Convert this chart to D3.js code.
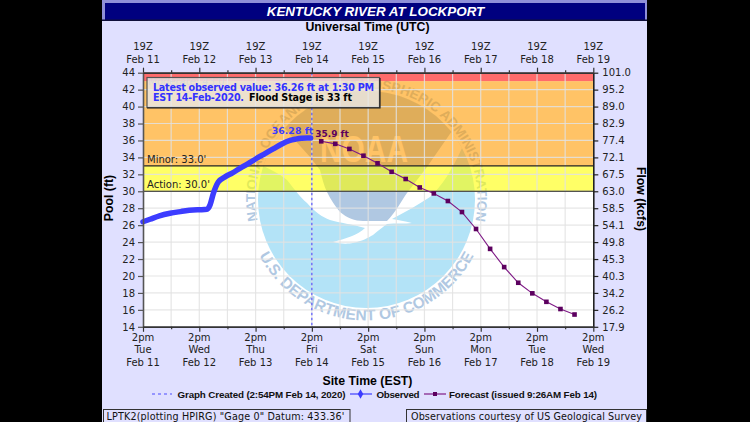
<!DOCTYPE html>
<html><head><meta charset="utf-8">
<script src="https://cdn.jsdelivr.net/npm/d3@7"></script>
<style>html,body{margin:0;padding:0;background:#000;overflow:hidden}svg{display:block}</style>
</head><body><svg id="c" width="750" height="422"></svg>
<script>
// hours since 2pm Tue Feb 11 (site time)
const observedHours=[0,3,7,11.5,16,21.4,25,27.2,28.6,30,32.1,35,38,41.3,45,48.5,52,55.5,59,62.7,65,67.6,70,71.5];
const observedStage=[26.4,26.7,27.1,27.4,27.6,27.8,27.82,27.87,28.4,29.75,31.1,31.7,32.15,32.7,33.3,33.9,34.45,35.0,35.55,36.0,36.15,36.27,36.3,36.28];
const forecastHours=[76,82,88,94,100,106,112,118,124,130,136,142,148,154,160,166,172,178,184];
const forecastStage=[35.9,35.6,35.0,34.2,33.3,32.3,31.45,30.45,29.75,28.85,27.55,25.55,23.2,21.05,19.2,17.95,16.95,16.1,15.45];
const createdHour=72;
const stageTicks=[44,42,40,38,36,34,32,30,28,26,24,22,20,18,16,14];
const flowLabels=["101.0","95.2","89.0","82.9","77.4","72.1","67.5","63.0","58.5","54.1","49.8","45.3","40.3","34.2","26.2","17.9"];
const dayHours=[0,24,48,72,96,120,144,168,192];
const halfDayHours=[12,36,60,84,108,132,156,180];
const dateLabels=["Feb 11","Feb 12","Feb 13","Feb 14","Feb 15","Feb 16","Feb 17","Feb 18","Feb 19"];
const weekdayLabels=["Tue","Wed","Thu","Fri","Sat","Sun","Mon","Tue","Wed"];
const bandNames=["Moderate","Minor","Action"];
const bandLevels=[43,33,30];
const bandFills=["rgba(255,0,0,.58)","rgba(255,155,0,.6)","rgba(255,255,0,.6)"];
const bandTops=[44,43,33];

const VER="'DejaVu Sans',sans-serif", ARI="'Liberation Sans',Arial,sans-serif";
const L=143,R=593.3,T=72.7,B=326.8;
const x=d3.scaleLinear().domain([0,192]).range([L,R]);
const y=d3.scaleLinear().domain([14,44]).range([B,T]);
const svg=d3.select("#c");
svg.append("rect").attr("width",750).attr("height",422).attr("fill","#000");
svg.append("rect").attr("x",102).attr("width",545).attr("height",422).attr("fill","#e0e0ff");
// title bar
svg.append("rect").attr("x",102).attr("width",545).attr("height",21).attr("fill","#8f8fd8");
svg.append("rect").attr("x",105).attr("y",3).attr("width",540).attr("height",17).attr("fill","#00007f");
svg.append("rect").attr("x",102).attr("y",19.5).attr("width",545).attr("height",1.5).attr("fill","#10103a");
svg.append("text").attr("x",375.5).attr("y",16).attr("text-anchor","middle").attr("fill","#fff")
  .attr("font-family",ARI).attr("font-weight","bold").attr("font-style","italic").attr("font-size",13.4).text("KENTUCKY RIVER AT LOCKPORT");
svg.append("text").attr("x",367.5).attr("y",31).attr("text-anchor","middle").attr("fill","#000")
  .attr("font-family",ARI).attr("font-weight","bold").attr("font-size",12.3).text("Universal Time (UTC)");

// plot background and logo
svg.append("rect").attr("x",L).attr("y",T).attr("width",R-L).attr("height",B-T).attr("fill","#fff");
const defs=svg.append("defs");
const cx=366.5,cy=199.5,r=108.5;
defs.append("clipPath").attr("id","circ").append("circle").attr("cx",cx).attr("cy",cy).attr("r",r);
defs.append("clipPath").attr("id","plot").append("rect").attr("x",L).attr("y",T).attr("width",R-L).attr("height",B-T);
const topR=111, topA=.28;
defs.append("path").attr("id","arcTop").attr("d",`M${cx-topR*Math.cos(topA)},${cy+topR*Math.sin(topA)} A${topR},${topR} 0 1 1 ${cx+topR*Math.cos(topA)},${cy+topR*Math.sin(topA)}`);
defs.append("path").attr("id","arcBot").attr("d",`M${cx-121*Math.cos(.42)},${cy+121*Math.sin(.42)} A121,121 0 0 0 ${cx+121*Math.cos(.42)},${cy+121*Math.sin(.42)}`);
const logo=svg.append("g").attr("clip-path","url(#plot)");
const ink="#b0c8e2";
logo.append("circle").attr("cx",cx).attr("cy",cy).attr("r",r).attr("fill","#b3e3f7");
const inC=logo.append("g").attr("clip-path","url(#circ)");
inC.append("path").attr("fill","#fff").attr("d","M250,158 C265,168 278,172 287,180 C295,190 300,197 307,203 C315,212 322,217 330,220 C340,223 352,224 365,228 C358,235 345,239 333,242 C340,244 348,244 353,243 C362,241 368,238 373,235 C379,230 383,227 387,224 C395,223 405,224 412,223 C405,221 398,220 392,219 C405,212 418,205 430,197 C442,186 452,170 462,148 L490,100 L366,60 L240,100 Z");
inC.append("path").attr("fill",ink).attr("d","M282,125 L292,137 L310,157 L320,170 C322,178 324,186 327,192 C331,200 335,206 340,212 C347,218 355,221 363,221 L387,221 C396,212 402,200 407,193 L427,167 L452,131 L470,80 L366,70 L262,80 Z");
logo.append("text").attr("x",364).attr("y",162).attr("text-anchor","middle").attr("fill","#fff")
  .attr("font-family",ARI).attr("font-weight","bold").attr("font-size",36).attr("textLength",88).attr("lengthAdjust","spacingAndGlyphs").text("NOAA");
logo.append("text").attr("fill",ink).attr("font-family",ARI).attr("font-weight","bold").attr("font-size",13.6)
  .append("textPath").attr("href","#arcTop").attr("startOffset","50%").attr("text-anchor","middle").text("NATIONAL OCEANIC AND ATMOSPHERIC ADMINISTRATION");
logo.append("text").attr("fill",ink).attr("font-family",ARI).attr("font-weight","bold").attr("font-size",15.5)
  .append("textPath").attr("href","#arcBot").attr("startOffset","50%").attr("text-anchor","middle").text("U.S. DEPARTMENT OF COMMERCE");

// flood bands
svg.append("g").selectAll("rect").data(bandLevels).join("rect")
  .attr("x",L).attr("width",R-L).attr("y",(d,i)=>y(bandTops[i])).attr("height",(d,i)=>y(d)-y(bandTops[i]))
  .attr("fill",(d,i)=>bandFills[i]);

// grid
const grid=svg.append("g").attr("stroke","rgba(226,226,226,.85)").attr("stroke-width",1.2);
grid.selectAll("line.h").data(stageTicks.slice(1,-1)).join("line").attr("class","h")
  .attr("x1",L).attr("x2",R).attr("y1",d=>y(d)).attr("y2",d=>y(d));
grid.selectAll("line.v").data(dayHours.concat(halfDayHours).filter(d=>d>0&&d<192)).join("line").attr("class","v")
  .attr("x1",d=>x(d)).attr("x2",d=>x(d)).attr("y1",T).attr("y2",B);

// stage lines and labels
svg.append("g").selectAll("line").data(bandLevels.slice(1)).join("line")
  .attr("x1",L).attr("x2",R).attr("y1",d=>y(d)).attr("y2",d=>y(d)).attr("stroke","#222").attr("stroke-width",1.1);
svg.append("g").attr("font-family",VER).attr("font-size",10).selectAll("text").data(bandLevels).join("text")
  .attr("x",(d,i)=>i?147:148).attr("y",(d,i)=>y(d)+(i==0?3.5:i==1?-2.5:-3))
  .attr("fill",(d,i)=>i?"#222":"#999")
  .text((d,i)=>`${bandNames[i]}: ${d.toFixed(1)}'`);

// created line
svg.append("line").attr("x1",x(createdHour)).attr("x2",x(createdHour)).attr("y1",T).attr("y2",B)
  .attr("stroke","#4a4aff").attr("stroke-width",1.1).attr("stroke-dasharray","2.5,2.5");

// observed
const lineGen=d3.line().x(d=>x(d[0])).y(d=>y(d[1])).curve(d3.curveMonotoneX);
svg.append("path").attr("d",lineGen(observedHours.map((h,i)=>[h,observedStage[i]])))
  .attr("fill","none").attr("stroke","#3c3cff").attr("stroke-width",5.5).attr("stroke-linecap","round").attr("stroke-linejoin","round");
// forecast
const fc=forecastHours.map((h,i)=>[h,forecastStage[i]]);
svg.append("path").attr("d",d3.line().x(d=>x(d[0])).y(d=>y(d[1]))(fc)).attr("fill","none").attr("stroke","#7f1a86").attr("stroke-width",1.1);
svg.append("g").selectAll("rect").data(fc).join("rect").attr("x",d=>x(d[0])-2.3).attr("y",d=>y(d[1])-2.3).attr("width",4.6).attr("height",4.6).attr("fill","#5c005f");

svg.append("text").attr("x",292.5).attr("y",133.5).attr("text-anchor","middle").attr("fill","#3c3cff").attr("font-family",VER).attr("font-weight","bold").attr("font-size",9.4).text(observedStage[observedStage.length-1]+" ft");
svg.append("text").attr("x",332).attr("y",136.5).attr("text-anchor","middle").attr("fill","#5c005f").attr("font-family",VER).attr("font-weight","bold").attr("font-size",9).text(forecastStage[0]+" ft");

// axes
function styleAxis(g,col){g.selectAll(".domain").attr("stroke",col).attr("stroke-width",1.6);g.selectAll("line").attr("stroke",col).attr("stroke-width",1.2);g.selectAll("text").attr("fill","#222").attr("font-family",VER).attr("font-size",10);}
const gl=svg.append("g").attr("transform",`translate(${L},0)`).call(d3.axisLeft(y).tickValues(stageTicks).tickSize(5).tickSizeOuter(0).tickPadding(3));
styleAxis(gl,"#555");
const gr=svg.append("g").attr("transform",`translate(${R},0)`).call(d3.axisRight(y).tickValues(stageTicks).tickSize(5).tickSizeOuter(0).tickPadding(4).tickFormat((d,i)=>flowLabels[i]));
styleAxis(gr,"#222");
[[T,d3.axisTop],[B,d3.axisBottom]].forEach(([py,ax])=>{
  const a=svg.append("g").attr("transform",`translate(0,${py})`).call(ax(x).tickValues(dayHours).tickSize(5).tickSizeOuter(0).tickFormat(""));
  styleAxis(a,"#333");
  const b=svg.append("g").attr("transform",`translate(0,${py})`).call(ax(x).tickValues(halfDayHours).tickSize(2.5).tickSizeOuter(0).tickFormat(""));
  styleAxis(b,"#333");
});
// x labels
const xl=svg.append("g").attr("font-family",VER).attr("font-size",10).attr("fill","#222").attr("text-anchor","middle");
dayHours.forEach((h,i)=>{
  xl.append("text").attr("x",x(h)).attr("y",49.5).text("19Z");
  xl.append("text").attr("x",x(h)).attr("y",62.5).text(dateLabels[i]);
  xl.append("text").attr("x",x(h)).attr("y",340.5).text("2pm");
  xl.append("text").attr("x",x(h)).attr("y",353.3).text(weekdayLabels[i]);
  xl.append("text").attr("x",x(h)).attr("y",366).text(dateLabels[i]);
});
// axis titles
const at=svg.append("g").attr("font-family",ARI).attr("font-weight","bold").attr("font-size",12.3).attr("fill","#000").attr("text-anchor","middle");
at.append("text").attr("x",367.5).attr("y",384.5).text("Site Time (EST)");
at.append("text").attr("transform","translate(113,198) rotate(-90)").text("Pool (ft)");
at.append("text").attr("transform","translate(637,199) rotate(90)").text("Flow (kcfs)");

// info box
svg.append("rect").attr("x",147).attr("y",77.5).attr("width",232.5).attr("height",30).attr("fill","rgba(232,232,232,.8)").attr("stroke","#555").attr("stroke-width",1.2);
svg.append("path").attr("d","M380,78 V108 H147").attr("fill","none").attr("stroke","#222").attr("stroke-width",1.2);
const info=svg.append("g").attr("font-family",VER).attr("font-weight","bold").attr("font-size",9.6);
info.append("text").attr("x",153).attr("y",91).attr("fill","#3232ff").attr("textLength",221).text("Latest observed value: 36.26 ft at 1:30 PM");
info.append("text").attr("x",153).attr("y",101).attr("fill","#3232ff").attr("textLength",91).text("EST 14-Feb-2020.");
info.append("text").attr("x",249).attr("y",101).attr("fill","#000").attr("textLength",103).text("Flood Stage is 33 ft");

// legend
const lg=svg.append("g").attr("font-family",ARI).attr("font-weight","bold").attr("font-size",9.8).attr("fill","#111");
lg.append("line").attr("x1",152).attr("x2",172).attr("y1",394).attr("y2",394).attr("stroke","#4a4aff").attr("stroke-width",1).attr("stroke-dasharray","3,3");
lg.append("text").attr("x",177.5).attr("y",397.5).attr("textLength",168).text("Graph Created (2:54PM Feb 14, 2020)");
lg.append("line").attr("x1",350).attr("x2",372).attr("y1",394).attr("y2",394).attr("stroke","#3c3cff").attr("stroke-width",1.2);
lg.append("path").attr("d",d3.symbol(d3.symbolDiamond,26)()).attr("transform","translate(360.5,394)").attr("fill","#3c3cff");
lg.append("text").attr("x",376.5).attr("y",397.5).attr("textLength",43).text("Observed");
lg.append("line").attr("x1",424).attr("x2",446).attr("y1",394).attr("y2",394).attr("stroke","#7f1a86").attr("stroke-width",1.2);
lg.append("rect").attr("x",433).attr("y",392).attr("width",4).attr("height",4).attr("fill","#5c005f");
lg.append("text").attr("x",449).attr("y",397.5).attr("textLength",148).text("Forecast (issued 9:26AM Feb 14)");

// footer boxes
const ft=svg.append("g").attr("font-family",VER).attr("font-size",9.6).attr("fill","#111");
[[103.5,246.5,`LPTK2(plotting HPIRG) "Gage 0" Datum: 433.36'`,106.5,238],[406.5,240,"Observations courtesy of US Geological Survey",411,231]].forEach(([bx,bw,t,tx,tw])=>{
  ft.append("rect").attr("x",bx).attr("y",409.5).attr("width",bw).attr("height",14).attr("fill","#e0e0ff").attr("stroke","#333");
  ft.append("text").attr("x",tx).attr("y",419.5).attr("textLength",tw).text(t);
});
</script></body></html>
